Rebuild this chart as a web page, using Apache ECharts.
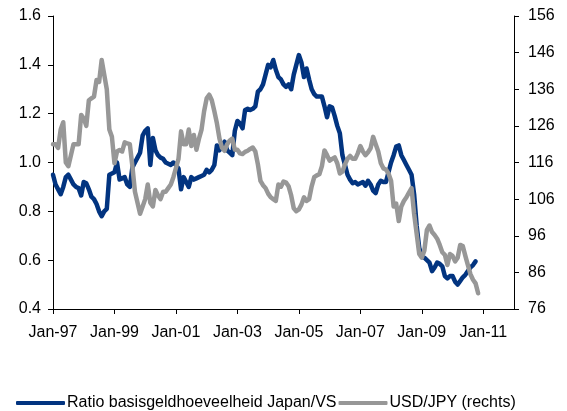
<!DOCTYPE html>
<html>
<head>
<meta charset="utf-8">
<script src="https://cdn.jsdelivr.net/npm/echarts@6/dist/echarts.min.js"></script>
<style>
  html, body { margin: 0; padding: 0; background: #fff; }
  #chart { width: 567px; height: 411px; }
</style>
</head>
<body>
<div id="chart"></div>
<script>
// Monthly observations starting January 1997
const startYear = 1997;
const monthCount = 181; // Jan-97 through Jan-12 (axis end)

// Tick labels on the time axis, every two years
const xTickLabels = ['Jan-97', 'Jan-99', 'Jan-01', 'Jan-03', 'Jan-05', 'Jan-07', 'Jan-09', 'Jan-11'];

// Ratio of monetary base Japan / US (left axis)
const ratioJapanUS = [
  0.95, 0.91, 0.89, 0.87, 0.90, 0.94, 0.95, 0.93, 0.91, 0.90, 0.895, 0.865,
  0.92, 0.915, 0.89, 0.86, 0.85, 0.83, 0.80, 0.78, 0.80, 0.81, 0.95, 0.955,
  0.96, 1.00, 0.93, 0.935, 0.94, 0.91, 0.90, 0.98, 1.00, 1.02, 1.04, 1.11,
  1.13, 1.14, 0.99, 1.10, 1.05, 1.03, 1.02, 1.015, 1.00, 0.995, 0.99, 1.00,
  0.99, 0.975, 0.89, 0.94, 0.92, 0.90, 0.94, 0.93, 0.935, 0.94, 0.945, 0.95,
  0.97, 0.96, 0.97, 0.99, 1.07, 1.05, 1.07, 1.085, 1.05, 1.04, 1.03, 1.13,
  1.17, 1.16, 1.14, 1.215, 1.22, 1.215, 1.22, 1.23, 1.29, 1.30, 1.32, 1.36,
  1.40, 1.39, 1.42, 1.38, 1.35, 1.34, 1.32, 1.31, 1.32, 1.30, 1.36, 1.40,
  1.44, 1.41, 1.35, 1.385, 1.34, 1.30, 1.28, 1.27, 1.27, 1.27, 1.23, 1.185,
  1.23, 1.225, 1.19, 1.15, 1.12, 1.03, 0.99, 0.95, 0.93, 0.915, 0.92, 0.91,
  0.915, 0.92, 0.905, 0.925, 0.91, 0.885, 0.875, 0.91, 0.925, 0.92, 0.92, 0.96,
  1.00, 1.03, 1.065, 1.07, 1.03, 1.01, 0.99, 0.97, 0.95, 0.87, 0.74, 0.65,
  0.615, 0.61, 0.60, 0.59, 0.555, 0.57, 0.59, 0.585, 0.575, 0.535, 0.525, 0.535,
  0.535, 0.512, 0.50, 0.515, 0.53, 0.54, 0.555, 0.57, 0.58, 0.595
];

// USD/JPY exchange rate (right axis)
const usdJpy = [
  121, 121, 120, 125, 127, 116, 115, 118, 121, 121, 121, 129,
  128, 126, 133, 133.5, 134, 138.5, 138, 144, 140, 136, 125, 123,
  115.8, 119, 119.4, 119, 121.5, 121.2, 121, 115, 108, 105, 102, 104,
  106, 110, 105, 104, 108.5, 107, 106, 108, 108, 109, 110, 112,
  114.5, 117, 124.5, 121, 121, 125, 120.5, 123.5, 119.5, 122.5, 125, 130,
  133.5, 134.5, 133, 130, 126.7, 122.5, 120, 119.2, 121, 122, 122.5, 119.5,
  119.5, 118.5, 118.3, 118.9, 119.2, 119.7, 120.1, 119, 115.5, 111, 109.8, 109,
  107.5, 106.5, 106, 105.5, 110, 109.4, 110.8, 110.5, 109.5, 107, 103.5, 102.7,
  103.2, 104.5, 106.5, 105.5, 106, 109.5, 112, 112.5, 112.8, 115, 119.3, 118,
  116.5, 117, 117.4, 115.8, 113, 113.5, 115.5, 117, 117.8, 117, 117, 118.5,
  120.5, 119, 118, 118.8, 119.9, 123, 121, 119, 115.8, 114.4, 114.1, 113,
  111, 104, 104.8, 100, 104, 105.5, 106.5, 107.8, 109, 102, 96.5, 91,
  90, 92, 97.6, 98.8, 97, 96.2, 95.2, 93.5, 91.5, 90.8, 88, 91,
  90.5, 89, 90, 93.5, 93.2, 90.5, 88, 85.5, 84, 83, 80.3
];

const months = [];
for (let i = 0; i < monthCount; i++) {
  const y = startYear + Math.floor(i / 12);
  const m = (i % 12) + 1;
  months.push(y + '-' + (m < 10 ? '0' + m : m));
}

const blue = '#023480';
const grey = '#979797';
const labelFont = { fontFamily: '"Liberation Sans", Arial, sans-serif', fontSize: 16, color: '#000' };
const axisLine = { show: true, lineStyle: { color: '#000', width: 1 } };
const axisTick = { show: true, inside: false, length: 5, lineStyle: { color: '#000', width: 1 } };

const chart = echarts.init(document.getElementById('chart'), null, { renderer: 'canvas' });
chart.setOption({
  animation: false,
  backgroundColor: '#fff',
  grid: { left: 53, right: 53, top: 16, bottom: 102, containLabel: false },
  legend: {
    left: 11,
    top: 390,
    itemWidth: 49,
    itemHeight: 4,
    itemGap: 2,
    icon: 'roundRect',
    textStyle: Object.assign({}, labelFont, { padding: [0, 0, 0, -3] }),
    data: [
      { name: 'Ratio basisgeldhoeveelheid Japan/VS', itemStyle: { color: blue } },
      { name: 'USD/JPY (rechts)', itemStyle: { color: grey } }
    ]
  },
  xAxis: {
    type: 'category',
    data: months,
    boundaryGap: false,
    axisLine: axisLine,
    axisTick: Object.assign({}, axisTick, { interval: (idx) => idx % 24 === 0 }),
    axisLabel: Object.assign({}, labelFont, {
      margin: 16,
      interval: (idx) => idx % 24 === 0,
      formatter: (val, idx) => (idx % 24 === 0 && xTickLabels[idx / 24]) ? xTickLabels[idx / 24] : ''
    }),
    splitLine: { show: false }
  },
  yAxis: [
    {
      type: 'value',
      position: 'left',
      min: 0.4, max: 1.6, interval: 0.2,
      axisLine: axisLine,
      axisTick: axisTick,
      axisLabel: Object.assign({}, labelFont, { margin: 12, formatter: (v) => v.toFixed(1) }),
      splitLine: { show: false }
    },
    {
      type: 'value',
      position: 'right',
      min: 76, max: 156, interval: 10,
      axisLine: axisLine,
      axisTick: axisTick,
      axisLabel: Object.assign({}, labelFont, { margin: 14 }),
      splitLine: { show: false }
    }
  ],
  series: [
    {
      name: 'Ratio basisgeldhoeveelheid Japan/VS',
      type: 'line',
      yAxisIndex: 0,
      data: ratioJapanUS,
      showSymbol: false,
      symbol: 'none',
      lineStyle: { color: blue, width: 4.5, join: 'round', cap: 'round' },
      itemStyle: { color: blue },
      z: 2
    },
    {
      name: 'USD/JPY (rechts)',
      type: 'line',
      yAxisIndex: 1,
      data: usdJpy,
      showSymbol: false,
      symbol: 'none',
      lineStyle: { color: grey, width: 4.5, join: 'round', cap: 'round' },
      itemStyle: { color: grey },
      z: 3
    }
  ]
});
</script>
</body>
</html>
